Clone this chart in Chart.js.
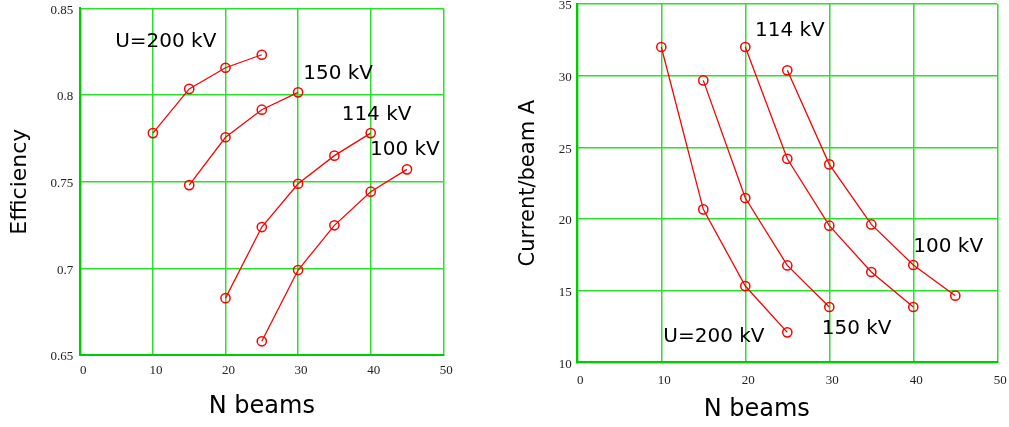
<!DOCTYPE html>
<html>
<head>
<meta charset="utf-8">
<script src="https://cdn.jsdelivr.net/npm/chart.js@4/dist/chart.umd.min.js"></script>
<style>
  html, body { margin: 0; padding: 0; background: #fff; }
  #wrap { position: relative; width: 1009px; height: 427px; overflow: hidden; }
  .box { position: absolute; top: 0; height: 427px; }
  #effBox { left: 0; width: 500px; }
  #curBox { left: 500px; width: 509px; }
</style>
</head>
<body>
<div id="wrap">
  <div class="box" id="effBox"><canvas id="eff"></canvas></div>
  <div class="box" id="curBox"><canvas id="cur"></canvas></div>
</div>
<script>
// Number of beams used for each accelerating voltage
const beams200 = [10, 15, 20, 25];
const beams150 = [15, 20, 25, 30];
const beams114 = [20, 25, 30, 35, 40];
const beams100 = [25, 30, 35, 40, 45];

// Efficiency per voltage
const eff200 = [0.778, 0.8035, 0.8157, 0.8232];
const eff150 = [0.748, 0.7756, 0.7915, 0.8015];
const eff114 = [0.6828, 0.7238, 0.7488, 0.765, 0.778];
const eff100 = [0.6579, 0.699, 0.7248, 0.7442, 0.7571];

// Current per beam (A) per voltage
const cur200 = [32.0, 20.67, 15.32, 12.09];
const cur150 = [29.67, 21.46, 16.76, 13.86];
const cur114 = [32.0, 24.2, 19.53, 16.3, 13.86];
const cur100 = [30.37, 23.81, 19.62, 16.79, 14.65];

// Tick values
const beamTicks = [0, 10, 20, 30, 40, 50];
const effTicks = [0.65, 0.7, 0.75, 0.8, 0.85];
const curTicks = [10, 15, 20, 25, 30, 35];

// Curve labels: text and anchor in data units
const effLabels = [
  { text: 'U=200 kV', x: 4.8, y: 0.8307 },
  { text: '150 kV', x: 30.7, y: 0.8121 },
  { text: '114 kV', x: 36.0, y: 0.7888 },
  { text: '100 kV', x: 39.9, y: 0.7682 }
];
const curLabels = [
  { text: '114 kV', x: 21.15, y: 33.12 },
  { text: '100 kV', x: 40.0, y: 18.06 },
  { text: '150 kV', x: 29.1, y: 12.37 },
  { text: 'U=200 kV', x: 10.24, y: 11.78 }
];

const RED = '#ff0000';
const GRID = 'rgb(40,225,40)';
const BORDER = 'rgb(0,205,0)';
const TICK_FONT = { family: '"Liberation Serif", "DejaVu Serif", serif', size: 13 };
const TEXT_FONT = '"DejaVu Sans", "Noto Sans", sans-serif';
const NBSP = '\u00a0';

function series(xs, ys) {
  return {
    data: xs.map((x, i) => ({ x: x, y: ys[i] })),
    borderColor: RED,
    borderWidth: 1.3,
    pointStyle: 'circle',
    pointRadius: 4.6,
    pointBorderWidth: 1.5,
    pointBorderColor: RED,
    pointBackgroundColor: 'rgba(255,255,255,0)',
    tension: 0,
    fill: false
  };
}

// Draws the voltage labels next to the curves, positioned through the scales
const curveLabels = {
  id: 'curveLabels',
  afterDatasetsDraw(chart, args, opts) {
    const { ctx, scales } = chart;
    ctx.save();
    ctx.font = '20px ' + TEXT_FONT;
    ctx.fillStyle = '#000';
    ctx.textAlign = 'left';
    ctx.textBaseline = 'middle';
    for (const l of opts.items || []) {
      ctx.fillText(l.text, scales.x.getPixelForValue(l.x), scales.y.getPixelForValue(l.y));
    }
    ctx.restore();
  }
};

function makeChart(id, cfg) {
  const yTicks = cfg.yTicks;
  return new Chart(document.getElementById(id), {
    type: 'line',
    data: { datasets: cfg.data },
    plugins: [curveLabels],
    options: {
      responsive: true,
      maintainAspectRatio: false,
      animation: false,
      events: [],
      layout: { autoPadding: false, padding: cfg.padding },
      plugins: {
        legend: { display: false },
        tooltip: { enabled: false },
        curveLabels: { items: cfg.labels }
      },
      scales: {
        x: {
          type: 'linear',
          min: 0, max: 50,
          afterBuildTicks: (s) => { s.ticks = beamTicks.map(v => ({ value: v })); },
          afterFit: (s) => { s.height = cfg.xHeight; s.paddingLeft = 0; s.paddingRight = 0; },
          border: { display: true, color: BORDER, width: 2 },
          grid: { color: GRID, lineWidth: 1.5, drawTicks: false },
          ticks: { color: '#222', font: TICK_FONT, padding: cfg.xTickPad, maxRotation: 0, labelOffset: 3,
                   callback: (v) => String(v) },
          title: {
            display: true, text: cfg.xTitle, color: '#000',
            font: { family: TEXT_FONT, size: 24 },
            padding: { top: 0, bottom: cfg.xTitlePad }
          }
        },
        y: {
          type: 'linear',
          min: yTicks[0], max: yTicks[yTicks.length - 1],
          afterBuildTicks: (s) => { s.ticks = yTicks.map(v => ({ value: v })); },
          afterFit: (s) => { s.width = cfg.yWidth; s.paddingTop = 0; s.paddingBottom = 0; },
          border: { display: true, color: BORDER, width: 2 },
          grid: { color: GRID, lineWidth: 1.5, drawTicks: false },
          ticks: { color: '#222', font: TICK_FONT, padding: cfg.yTickPad, labelOffset: 2,
                   callback: (v) => String(v) },
          title: {
            display: true, text: cfg.yTitle, color: '#000',
            font: { family: TEXT_FONT, size: cfg.yTitleSize },
            padding: { top: cfg.yTitlePad, bottom: 0 }
          }
        }
      }
    }
  });
}

makeChart('eff', {
  data: [
    series(beams200, eff200),
    series(beams150, eff150),
    series(beams114, eff114),
    series(beams100, eff100)
  ],
  labels: effLabels,
  yTicks: effTicks,
  xTitle: 'N beams',
  yTitle: 'Efficiency',
  yTitleSize: 22,
  yTitlePad: 7,
  padding: { left: 0, right: 56.7, top: 8.3, bottom: 0 },
  yWidth: 80.3,
  xHeight: 72,
  xTickPad: 8,
  yTickPad: 7,
  xTitlePad: 6
});

makeChart('cur', {
  data: [
    series(beams200, cur200),
    series(beams150, cur150),
    series(beams114, cur114),
    series(beams100, cur100)
  ],
  labels: curLabels,
  yTicks: curTicks,
  // trailing spaces set the title a little left of the plot centre
  xTitle: 'N beams' + NBSP.repeat(8),
  yTitle: 'Current/beam A',
  yTitleSize: 21,
  yTitlePad: 15.5,
  padding: { left: 0, right: 11.7, top: 4, bottom: 0 },
  yWidth: 77.3,
  xHeight: 64.7,
  xTickPad: 10,
  yTickPad: 5.5,
  xTitlePad: 3
});
</script>
</body>
</html>
